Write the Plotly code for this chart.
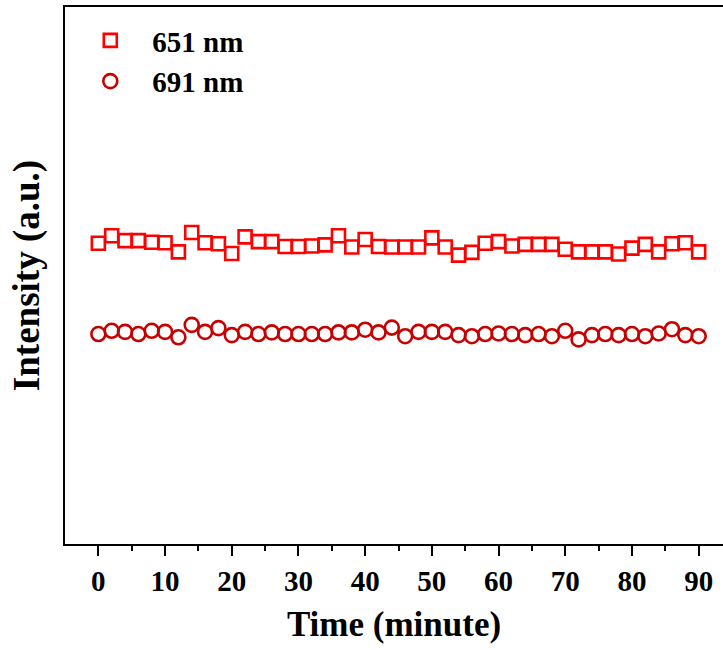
import plotly.graph_objects as go

# Sampling times (minutes) and emission intensities at the two peaks
time_min = list(range(0, 92, 2))

intensity_651 = [560, 574, 565, 565, 562, 561, 544, 580, 561, 559,
                 541, 572, 563, 563, 554, 554, 555, 557, 574, 553,
                 567, 554, 553, 553, 553, 570, 553, 538, 543, 560,
                 563, 555, 558, 558, 558, 549, 544, 544, 544, 540,
                 551, 558, 544, 559, 561, 544]

intensity_691 = [391, 397, 395, 391, 397, 395, 385, 408, 395, 402,
                 389, 395, 391, 394, 391, 391, 391, 391, 394, 394,
                 399, 394, 403, 387, 395, 395, 395, 389, 387, 391,
                 392, 391, 389, 391, 387, 397, 381, 389, 391, 389,
                 391, 387, 392, 400, 389, 387]

series_names = ["651 nm", "691 nm"]

FONT = "Liberation Serif"

fig = go.Figure()
fig.add_trace(go.Scatter(
    x=time_min, y=intensity_651, mode="markers", name=series_names[0],
    marker=dict(symbol="square-open", size=13, color="#FF0000",
                line=dict(width=2.6, color="#FF0000")),
))
fig.add_trace(go.Scatter(
    x=time_min, y=intensity_691, mode="markers", name=series_names[1],
    marker=dict(symbol="circle-open", size=14, color="#C80000",
                line=dict(width=2.6, color="#C80000")),
))

fig.update_layout(
    width=723, height=650,
    margin=dict(l=65, r=0, t=7, b=106),
    paper_bgcolor="white", plot_bgcolor="white",
    font=dict(family=FONT, color="black"),
    showlegend=True,
    legend=dict(
        x=0.005, y=0.985, xanchor="left", yanchor="top",
        itemwidth=74,
        font=dict(family=FONT, size=29, weight="bold", color="black"),
        bgcolor="rgba(0,0,0,0)", borderwidth=0,
    ),
    xaxis=dict(
        range=[-5, 93.65],
        tickmode="array", tickvals=list(range(0, 100, 10)),
        ticks="outside", ticklen=10, tickwidth=2, tickcolor="black",
        minor=dict(tickvals=list(range(5, 100, 10)), ticks="outside",
                   ticklen=5, tickwidth=2, tickcolor="black"),
        showline=True, linewidth=2, linecolor="black", mirror=True,
        showgrid=False, zeroline=False,
        tickfont=dict(family=FONT, size=29, weight="bold", color="black"),
        title=dict(text="Time (minute)", standoff=16,
                   font=dict(family=FONT, size=35, weight="bold", color="black")),
    ),
    yaxis=dict(
        range=[0, 1000],
        showticklabels=False, ticks="",
        showline=True, linewidth=2, linecolor="black",
        showgrid=False, zeroline=False,
        title=dict(text="Intensity (a.u.)", standoff=12,
                   font=dict(family=FONT, size=37, weight="bold", color="black")),
    ),
)

fig.write_html("out.html")
